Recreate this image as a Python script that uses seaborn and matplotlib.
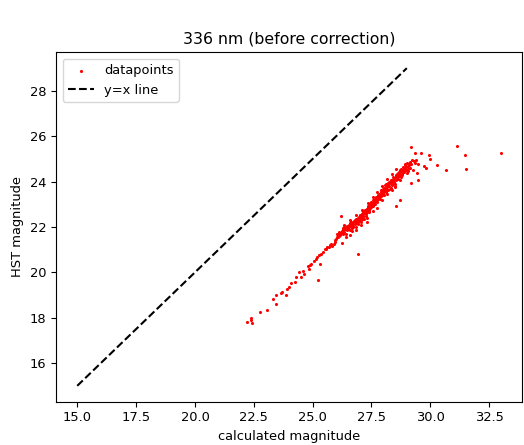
import matplotlib
matplotlib.use('Agg')
import matplotlib.pyplot as plt
import seaborn as sns
import pandas as pd

# valores (magnitud calculada vs magnitud HST)
calc_mag = [
    22.23, 22.37, 22.40, 22.44, 22.76, 23.05, 23.33, 23.45, 23.45, 23.66,
    23.68, 23.88, 23.92, 23.99, 24.09, 24.27, 24.30, 24.44, 24.52, 24.59,
    24.65, 24.80, 24.83, 24.90, 24.94, 25.04, 25.14, 25.18, 25.23, 25.25,
    25.30, 25.37, 25.42, 25.51, 25.56, 25.61, 25.68, 25.75, 25.79, 25.84,
    25.89, 25.96, 26.07, 26.03, 26.10, 26.17, 26.24, 26.21, 26.31, 26.35,
    26.41, 26.45, 26.52, 26.59, 26.66, 26.69, 26.73, 26.80, 26.83, 26.87,
    26.91, 26.94, 26.97, 27.01, 27.05, 27.08, 27.11, 27.15, 27.19, 27.22,
    27.29, 27.29, 27.36, 27.39, 27.43, 27.48, 27.50, 27.53, 27.57, 27.65,
    27.67, 27.72, 27.76, 27.79, 27.86, 27.90, 27.93, 27.95, 28.00, 28.04,
    28.07, 28.10, 28.14, 28.18, 28.21, 28.23, 28.28, 28.32, 28.35, 28.38,
    28.42, 28.46, 28.49, 28.52, 28.56, 28.56, 28.60, 28.63, 28.66, 28.69,
    28.70, 28.74, 28.77, 28.80, 28.84, 28.88, 28.91, 28.94, 28.98, 29.02,
    29.05, 29.08, 29.12, 29.16, 29.16, 29.19, 29.22, 29.26, 29.30, 29.33,
    29.36, 29.40, 29.45, 29.47, 29.47, 29.59, 29.75, 29.82, 29.94, 29.99,
    30.28, 30.67, 31.13, 31.47, 31.51, 32.99,
    26.04, 26.10, 26.14, 26.18, 26.24, 26.27, 26.29, 26.35, 26.38, 26.43,
    26.48, 26.52, 26.56, 26.60, 26.63, 26.69, 26.72, 26.76, 26.80, 26.84,
    26.88, 26.91, 26.96, 27.00, 27.03, 27.07,
    27.10, 27.14, 27.18, 27.21, 27.25, 27.28, 27.32, 27.35, 27.38, 27.42,
    27.45, 27.49, 27.52, 27.55, 27.59, 27.62, 27.66, 27.69, 27.73, 27.77,
    27.80, 27.83, 27.87, 27.91, 27.94, 27.98, 28.01, 28.05, 28.08,
    28.12, 28.15, 28.19, 28.22, 28.26, 28.29, 28.33, 28.36, 28.39, 28.43,
    28.47, 28.50, 28.54, 28.59, 28.61, 28.64, 28.67, 28.71, 28.76, 28.78,
    28.83, 28.85, 28.90, 28.92, 28.97, 29.00, 29.04, 29.07, 29.11, 29.14,
    26.30, 26.40, 26.50, 26.55, 26.62, 26.70, 26.78, 26.85, 26.92, 27.00,
    27.05, 27.12, 27.20, 27.27, 27.33, 27.40, 27.46, 27.54, 27.60, 26.20,
    26.12, 26.00, 25.95, 26.58, 26.66, 27.70, 27.78, 27.85, 27.92, 28.00,
    28.10, 28.20, 28.30, 28.40, 28.55, 28.65, 27.25, 26.95, 27.38, 27.15,
    27.75, 27.95, 28.15, 28.35, 28.50, 28.70, 27.55, 27.30, 27.05, 26.85,
    26.60, 26.40, 27.10, 27.35, 27.55, 27.75, 27.95, 28.15, 28.35, 28.55,
    26.85, 26.60, 26.35,
]
hst_mag = [
    17.80, 17.98, 17.90, 17.76, 18.25, 18.33, 18.84, 18.59, 18.99, 19.08,
    19.15, 19.02, 19.27, 19.34, 19.54, 19.59, 19.78, 20.03, 19.81, 20.06,
    19.95, 20.28, 20.17, 20.32, 20.39, 20.51, 20.60, 20.69, 19.66, 20.76,
    20.39, 20.83, 20.91, 21.01, 21.05, 21.13, 21.10, 21.20, 21.24, 21.16,
    21.27, 21.35, 21.57, 21.71, 21.79, 21.64, 21.30, 22.47, 21.86, 21.98,
    21.71, 22.03, 21.93, 22.15, 22.08, 21.83, 22.23, 22.30, 22.01, 22.33,
    20.83, 22.15, 22.42, 22.52, 22.23, 22.45, 22.59, 22.66, 22.37, 22.74,
    22.81, 22.23, 22.91, 22.66, 23.03, 22.88, 23.10, 22.96, 23.18, 23.03,
    23.25, 23.10, 23.32, 23.40, 23.25, 23.54, 23.47, 23.62, 23.69, 23.40,
    23.84, 23.54, 23.76, 23.91, 23.62, 23.98, 23.69, 24.06, 23.84, 23.91,
    24.20, 23.98, 23.76, 24.28, 24.06, 22.91, 24.35, 24.13, 24.42, 23.18,
    24.50, 24.20, 24.57, 24.35, 24.64, 24.42, 24.79, 24.72, 24.50, 24.82,
    24.57, 24.72, 24.86, 24.76, 23.94, 25.52, 24.94, 24.53, 24.91, 25.26,
    24.82, 24.94, 24.38, 24.06, 24.76, 25.26, 24.67, 24.61, 25.16, 25.01,
    24.72, 24.50, 25.55, 25.17, 24.54, 25.26,
    21.54, 21.60, 21.71, 21.74, 21.83, 21.68, 21.89, 21.79, 21.92, 21.98,
    21.86, 22.06, 21.98, 22.18, 22.03, 22.15, 21.98, 22.27, 22.12, 22.21,
    22.36, 22.24, 22.30, 22.39, 22.47, 22.33,
    22.56, 22.47, 22.62, 22.71, 22.59, 22.77, 22.68, 22.86, 22.77, 22.94,
    22.83, 23.00, 23.06, 22.91, 23.12, 23.00, 23.18, 23.32, 23.21, 23.38,
    23.27, 23.47, 23.35, 23.62, 23.41, 23.59, 23.50, 23.73, 23.65,
    23.88, 23.62, 23.79, 23.94, 23.79, 23.94, 23.73, 24.09, 23.97, 24.09,
    24.17, 23.91, 24.20, 24.15, 24.26, 24.38, 24.23, 24.35, 24.47, 24.29,
    24.53, 24.41, 24.58, 24.50, 24.64, 24.38, 24.67, 24.47, 24.79, 24.61,
    21.95, 21.90, 22.00, 22.10, 22.20, 22.05, 22.22, 22.35, 22.38, 22.45,
    22.55, 22.50, 22.65, 22.62, 22.78, 22.85, 22.95, 23.02, 23.08, 21.72,
    21.68, 21.48, 21.42, 21.88, 21.95, 23.15, 23.22, 23.42, 23.35, 23.55,
    23.70, 23.85, 24.00, 24.05, 24.25, 24.33, 22.48, 22.25, 22.72, 22.35,
    22.85, 23.20, 23.45, 23.65, 23.80, 24.05, 22.70, 22.40, 22.10, 21.85,
    21.65, 21.55, 22.75, 23.05, 23.30, 23.55, 23.80, 24.10, 24.35, 24.55,
    22.55, 22.30, 22.10,
]

linea_x = [15, 29]
linea_y = [15, 29]

df = pd.DataFrame({'calc': calc_mag, 'hst': hst_mag})

fig = plt.figure(figsize=(5.24, 4.45), dpi=100)
ax = fig.add_subplot(111)
fig.subplots_adjust(left=0.107, right=0.996, top=0.8825, bottom=0.0973)

sns.scatterplot(data=df, x='calc', y='hst', color='red', s=5, linewidth=0,
                label='datapoints', ax=ax)
sns.lineplot(x=linea_x, y=linea_y, color='black', linestyle='--',
             label='y=x line', ax=ax)

ax.set_title("336 nm (before correction)", fontsize=11.3)
ax.set_xlabel("calculated magnitude", fontsize=9.4)
ax.set_ylabel("HST magnitude", fontsize=9.4)
ax.tick_params(labelsize=9.4)
ax.legend(loc='upper left', fontsize=9.4)

plt.savefig("out.png", dpi=100)
